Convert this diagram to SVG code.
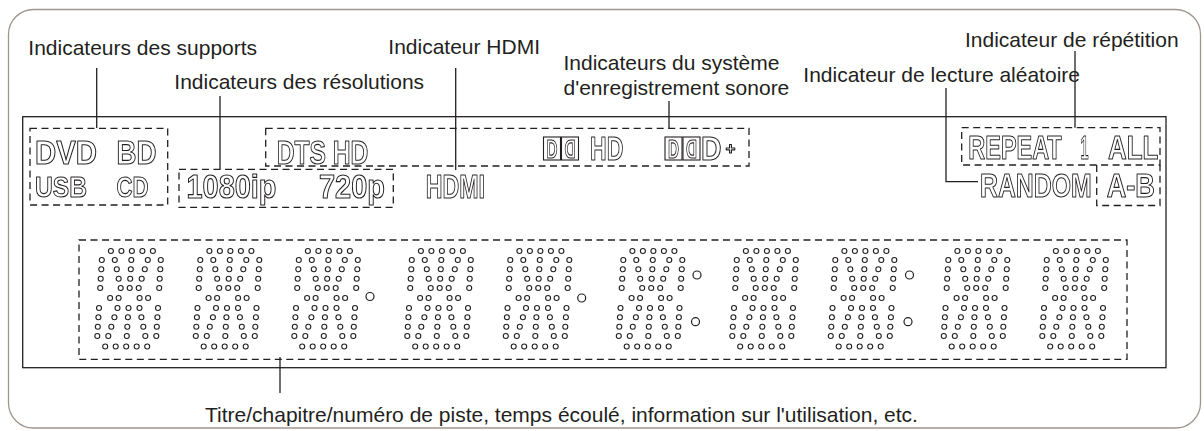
<svg xmlns="http://www.w3.org/2000/svg" xmlns:xlink="http://www.w3.org/1999/xlink" width="1204" height="431" viewBox="0 0 1204 431">
  <style>
    .lbl { font-family: "Liberation Sans", Arial, sans-serif; font-size: 21px; fill: #231f20; }
    .vfd { font-family: "Liberation Sans", Arial, sans-serif; font-size: 33px; font-weight: bold; fill: none; stroke: #231f20; stroke-width: 1.1; stroke-linejoin: round; }
    .dash { fill: none; stroke: #231f20; stroke-width: 1.3; stroke-dasharray: 7 4.5; }
    .lead { fill: none; stroke: #231f20; stroke-width: 1.3; }
    .dot { fill: #fff; stroke: #231f20; stroke-width: 1.1; }
    .big { fill: #fff; stroke: #231f20; stroke-width: 1.2; }
  </style>
  <defs>
    <!-- render the hollow display lettering through an offscreen pass (greyscale edges) -->
    <filter id="flat" x="0" y="0" width="1204" height="431" filterUnits="userSpaceOnUse">
      <feOffset dx="0" dy="0"/>
    </filter>
    <!-- one 14-segment dot-matrix digit, slightly italic -->
    <g id="g8" class="dot">
      <circle cx="11.4" cy="0" r="2.5"/><circle cx="21.9" cy="0" r="2.5"/><circle cx="32.4" cy="0" r="2.5"/><circle cx="42.9" cy="0" r="2.5"/><circle cx="53.4" cy="0" r="2.5"/>
      <circle cx="2.3" cy="9" r="2.5"/><circle cx="15.3" cy="9" r="2.5"/><circle cx="31.8" cy="9" r="2.5"/><circle cx="48.3" cy="9" r="2.5"/><circle cx="61.3" cy="9" r="2.5"/>
      <circle cx="1.8" cy="18.3" r="2.5"/><circle cx="17.3" cy="18.3" r="2.5"/><circle cx="31.3" cy="18.3" r="2.5"/><circle cx="45.3" cy="18.3" r="2.5"/><circle cx="60.8" cy="18.3" r="2.5"/>
      <circle cx="1.2" cy="27.7" r="2.5"/><circle cx="19.2" cy="27.7" r="2.5"/><circle cx="30.7" cy="27.7" r="2.5"/><circle cx="42.2" cy="27.7" r="2.5"/><circle cx="60.2" cy="27.7" r="2.5"/>
      <circle cx="0.7" cy="37" r="2.5"/><circle cx="21.2" cy="37" r="2.5"/><circle cx="30.2" cy="37" r="2.5"/><circle cx="39.2" cy="37" r="2.5"/><circle cx="59.7" cy="37" r="2.5"/>
      <circle cx="10.6" cy="47" r="2.5"/><circle cx="19.1" cy="47" r="2.5"/><circle cx="40.1" cy="47" r="2.5"/><circle cx="48.6" cy="47" r="2.5"/>
      <circle cx="-0.5" cy="57" r="2.5"/><circle cx="18" cy="57" r="2.5"/><circle cx="29" cy="57" r="2.5"/><circle cx="40" cy="57" r="2.5"/><circle cx="58.5" cy="57" r="2.5"/>
      <circle cx="-1.1" cy="66.3" r="2.5"/><circle cx="14.9" cy="66.3" r="2.5"/><circle cx="28.4" cy="66.3" r="2.5"/><circle cx="41.9" cy="66.3" r="2.5"/><circle cx="57.9" cy="66.3" r="2.5"/>
      <circle cx="-1.7" cy="75.7" r="2.5"/><circle cx="11.8" cy="75.7" r="2.5"/><circle cx="27.8" cy="75.7" r="2.5"/><circle cx="43.8" cy="75.7" r="2.5"/><circle cx="57.3" cy="75.7" r="2.5"/>
      <circle cx="-2.2" cy="85" r="2.5"/><circle cx="8.8" cy="85" r="2.5"/><circle cx="27.3" cy="85" r="2.5"/><circle cx="45.8" cy="85" r="2.5"/><circle cx="56.8" cy="85" r="2.5"/>
      <circle cx="5.7" cy="95.5" r="2.5"/><circle cx="16.2" cy="95.5" r="2.5"/><circle cx="26.7" cy="95.5" r="2.5"/><circle cx="37.2" cy="95.5" r="2.5"/><circle cx="47.7" cy="95.5" r="2.5"/>
    </g>
    <!-- double-D audio logo -->
    <g id="dd">
      <rect x="0" y="0" width="17" height="23" fill="#fff" stroke="#231f20" stroke-width="1.1"/>
      <rect x="18" y="0" width="17" height="23" fill="#fff" stroke="#231f20" stroke-width="1.1"/>
      <text class="vfd" x="3" y="20.5" style="font-size:26px" textLength="11" lengthAdjust="spacingAndGlyphs">D</text>
      <text class="vfd" transform="translate(32,20.5) scale(-1,1)" style="font-size:26px" textLength="11" lengthAdjust="spacingAndGlyphs">D</text>
    </g>
  </defs>

  <rect width="1204" height="431" fill="#fff"/>

  <!-- outer frame and display panel -->
  <g id="frame">
    <rect x="8.5" y="9.5" width="1192" height="418.5" rx="25" ry="25" fill="none" stroke="#a0968f" stroke-width="1.3"/>
    <rect x="22.7" y="116.7" width="1143.3" height="251" fill="none" stroke="#231f20" stroke-width="1.3"/>
  </g>

  <!-- leader lines -->
  <g id="connectors" class="lead">
    <line x1="96.7" y1="68" x2="96.7" y2="128"/>
    <line x1="220" y1="96" x2="220" y2="169.3"/>
    <line x1="455.7" y1="68" x2="455.7" y2="170"/>
    <line x1="669" y1="101" x2="669" y2="128"/>
    <polyline points="946,88 946,181.7 978,181.7"/>
    <line x1="1075" y1="51" x2="1075" y2="127.7"/>
    <line x1="280" y1="357" x2="280" y2="393"/>
  </g>

  <g id="media">
    <text class="lbl" x="28.3" y="55">Indicateurs des supports</text>
    <rect class="dash" x="30" y="128.3" width="137.7" height="76.7"/>
    <g filter="url(#flat)">
      <text class="vfd" x="35" y="163.5" textLength="62" lengthAdjust="spacingAndGlyphs">DVD</text>
      <text class="vfd" x="116.5" y="163.5" textLength="40" lengthAdjust="spacingAndGlyphs">BD</text>
      <text class="vfd" x="35" y="197" style="font-size:30px" textLength="52" lengthAdjust="spacingAndGlyphs">USB</text>
      <text class="vfd" x="116.5" y="197" style="font-size:30px" textLength="32" lengthAdjust="spacingAndGlyphs">CD</text>
    </g>
  </g>

  <g id="resolution">
    <text class="lbl" x="174.3" y="89.3">Indicateurs des résolutions</text>
    <rect class="dash" x="179" y="169.3" width="214.3" height="38"/>
    <g filter="url(#flat)">
      <text class="vfd" x="186.5" y="197.5" textLength="90" lengthAdjust="spacingAndGlyphs">1080ip</text>
      <text class="vfd" x="319" y="197.5" textLength="66" lengthAdjust="spacingAndGlyphs">720p</text>
    </g>
  </g>

  <g id="hdmi">
    <text class="lbl" x="388.3" y="53.5">Indicateur HDMI</text>
    <text class="vfd" x="425.7" y="197.5" textLength="59.3" lengthAdjust="spacingAndGlyphs" filter="url(#flat)">HDMI</text>
  </g>

  <g id="audio">
    <text class="lbl" x="563.5" y="70">Indicateurs du système</text>
    <text class="lbl" x="563.5" y="95">d'enregistrement sonore</text>
    <rect class="dash" x="265.7" y="128.3" width="483.3" height="37.7"/>
    <g filter="url(#flat)">
      <text class="vfd" x="276.7" y="164" textLength="91.6" lengthAdjust="spacingAndGlyphs">DTS HD</text>
      <use xlink:href="#dd" x="543.5" y="137"/>
      <text class="vfd" x="590" y="160.3" textLength="33.3" lengthAdjust="spacingAndGlyphs">HD</text>
      <use xlink:href="#dd" x="665" y="137"/>
      <text class="vfd" x="701" y="160.3" textLength="20.5" lengthAdjust="spacingAndGlyphs">D</text>
      <text class="vfd" x="725.5" y="153.5" style="font-size:17px" textLength="10" lengthAdjust="spacingAndGlyphs">+</text>
    </g>
  </g>

  <g id="random">
    <text class="lbl" x="803.3" y="81.7">Indicateur de lecture aléatoire</text>
    <text class="vfd" x="980" y="196.7" textLength="111.7" lengthAdjust="spacingAndGlyphs" filter="url(#flat)">RANDOM</text>
  </g>

  <g id="repeat">
    <text class="lbl" x="965" y="46.7">Indicateur de répétition</text>
    <rect class="dash" x="961.7" y="127.7" width="198.3" height="37.3"/>
    <polyline class="dash" points="1096.7,165 1096.7,205.5 1160,205.5 1160,165"/>
    <g filter="url(#flat)">
      <text class="vfd" y="159.3"><tspan x="968.3" textLength="93.4" lengthAdjust="spacingAndGlyphs">REPEAT</tspan><tspan x="1080.5" textLength="8" lengthAdjust="spacingAndGlyphs">1</tspan><tspan x="1108" textLength="50.3" lengthAdjust="spacingAndGlyphs">ALL</tspan></text>
      <text class="vfd" x="1106.7" y="196.7" textLength="48.3" lengthAdjust="spacingAndGlyphs">A-B</text>
    </g>
  </g>

  <g id="matrix">
    <rect class="dash" x="79" y="240" width="1048" height="119.3"/>
    <use xlink:href="#g8" x="99.5" y="251"/>
    <use xlink:href="#g8" x="198" y="251"/>
    <use xlink:href="#g8" x="296.5" y="251"/>
    <use xlink:href="#g8" x="409.5" y="251"/>
    <use xlink:href="#g8" x="508" y="251"/>
    <use xlink:href="#g8" x="621" y="251"/>
    <use xlink:href="#g8" x="734.5" y="251"/>
    <use xlink:href="#g8" x="833" y="251"/>
    <use xlink:href="#g8" x="946" y="251"/>
    <use xlink:href="#g8" x="1044.5" y="251"/>
    <circle class="big" cx="370" cy="296.5" r="4"/>
    <circle class="big" cx="581.7" cy="298" r="4"/>
    <circle class="big" cx="697" cy="275" r="4"/>
    <circle class="big" cx="695.5" cy="321.7" r="4"/>
    <circle class="big" cx="909.5" cy="275" r="4"/>
    <circle class="big" cx="908" cy="321.7" r="4"/>
  </g>

  <g id="caption">
    <text class="lbl" x="205" y="421.5">Titre/chapitre/numéro de piste, temps écoulé, information sur l'utilisation, etc.</text>
  </g>
</svg>
